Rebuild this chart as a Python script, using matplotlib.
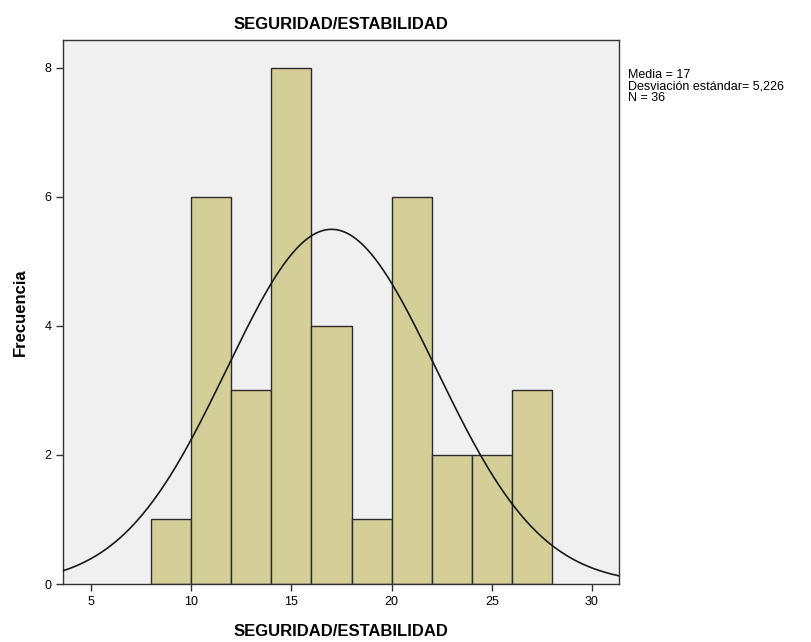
import numpy as np
import matplotlib
matplotlib.use("Agg")
import matplotlib.pyplot as plt

plt.rcParams['font.family'] = ['Liberation Sans', 'DejaVu Sans']

# Histogram bins (width 2) and their frequencies
bin_edges = [8, 10, 12, 14, 16, 18, 20, 22, 24, 26, 28]
counts = [1, 6, 3, 8, 4, 1, 6, 2, 2, 3]
mean = 17
std = 5.226
n = 36

x_ticks = [5, 10, 15, 20, 25, 30]
y_ticks = [0, 2, 4, 6, 8]

fig = plt.figure(figsize=(8.11, 6.42), dpi=100)
ax = fig.add_axes([0.0777, 0.0903, 0.6856, 0.8474])
ax.set_facecolor('#f0f0f0')

lefts = bin_edges[:-1]
widths = np.diff(bin_edges)
ax.bar(lefts, counts, width=widths, align='edge', color='#d4cf99',
       edgecolor='#2b2b2b', linewidth=1.0, zorder=2)

# Normal curve scaled to the histogram
xmin, xmax = 3.6, 31.35
xs = np.linspace(xmin, xmax, 400)
bw = widths[0]
ys = n * bw / (std * np.sqrt(2 * np.pi)) * np.exp(-0.5 * ((xs - mean) / std) ** 2)
ax.plot(xs, ys, color='#1a1a1a', linewidth=1.2, zorder=3)

ax.set_xlim(xmin, xmax)
ax.set_ylim(0, 8.43)
ax.set_xticks(x_ticks)
ax.set_yticks(y_ticks)
ax.tick_params(direction='out', length=5, width=1, labelsize=9, color='#333333')
for s in ax.spines.values():
    s.set_color('#333333')
    s.set_linewidth(1.0)

ax.set_title('SEGURIDAD/ESTABILIDAD', fontsize=12, fontweight='bold', pad=8)
ax.set_xlabel('SEGURIDAD/ESTABILIDAD', fontsize=12, fontweight='bold', labelpad=12)
ax.set_ylabel('Frecuencia', fontsize=12, fontweight='bold', labelpad=12)

fig.text(628 / 811, 1 - 69 / 642,
         'Media = 17\nDesviación estándar= 5,226\nN = 36',
         fontsize=9, va='top', ha='left', linespacing=0.95)

fig.savefig('out.png', dpi=100)
